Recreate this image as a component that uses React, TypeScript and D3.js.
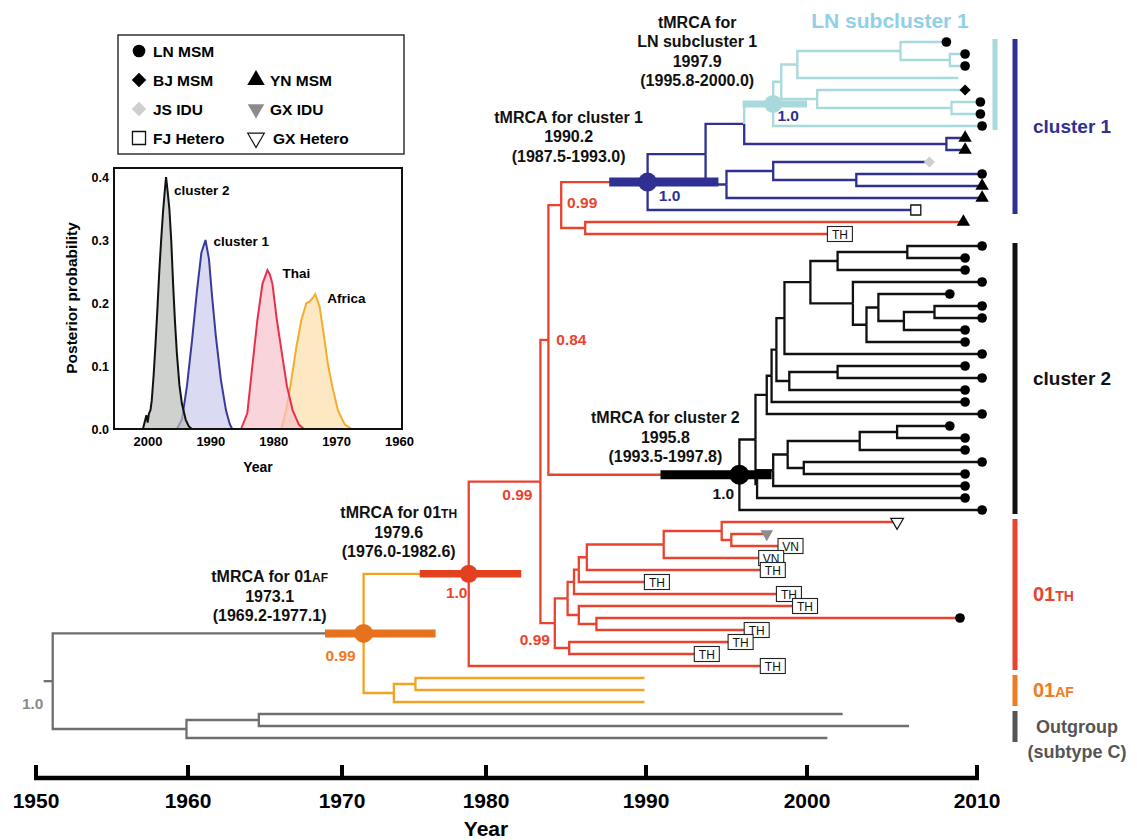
import React from "react";
import * as d3 from "d3";

const FONT = "'Liberation Sans', Arial, Helvetica, sans-serif";

// time axis: the printed axis is not evenly spaced, so the scale is piecewise
const axisTicks = [1950, 1960, 1970, 1980, 1990, 2000, 2010];
const axisRange = [36, 188, 342, 486, 646, 807, 977];

// tree rows in top-to-bottom order: [id, parent, node date (year), tip code]
// tip codes: LN BJ YN JS GX FJ GXH = legend groups, TH / VN = boxed labels, "-" = no mark
type Row = [string, string | null, number, string?];
const treeRows: Row[] = [
  ["root", null, 1951.1],
  ["af", "root", 1971.5],
  ["th", "af", 1978.8],
  ["c", "th", 1983.4],
  ["d", "c", 1983.9],
  ["e", "d", 1984.7],
  ["c1", "e", 1990.1],
  ["u", "c1", 1993.7],
  ["t", "u", 1996.1],
  ["ln", "t", 1997.9],
  ["r", "ln", 1998.4],
  ["q", "r", 1999.4],
  ["n1", "q", 2005.5],
  ["l1", "n1", 2008.2, "LN"],
  ["n2", "n1", 2008.4],
  ["l2", "n2", 2009.3, "LN"],
  ["l3", "n2", 2009.3, "LN"],
  ["l4", "q", 2008.9, "-"],
  ["s", "r", 2000.6],
  ["l5", "s", 2009.3, "BJ"],
  ["n3", "s", 2008.5],
  ["l6", "n3", 2010.2, "LN"],
  ["l7", "n3", 2010.2, "LN"],
  ["l8", "ln", 2010.3, "LN"],
  ["n4", "t", 2008.2],
  ["l9", "n4", 2009.3, "YN"],
  ["l10", "n4", 2009.3, "YN"],
  ["v", "u", 1995.0],
  ["w", "v", 1997.9],
  ["l11", "w", 2007.2, "JS"],
  ["x", "w", 2002.9],
  ["l12", "x", 2010.3, "LN"],
  ["l13", "x", 2010.3, "YN"],
  ["l14", "v", 2010.3, "YN"],
  ["l15", "c1", 2006.4, "FJ"],
  ["m", "e", 1986.2],
  ["m1", "m", 2009.2, "YN"],
  ["m2", "m", 2001.2, "TH"],
  ["c2", "d", 1995.8],
  ["y", "c2", 1996.8],
  ["a1", "y", 1997.5],
  ["a2", "a1", 1997.8],
  ["a3", "a2", 1998.1],
  ["a4", "a3", 1998.6],
  ["a5", "a4", 2000.2],
  ["a6", "a5", 2001.8],
  ["a7", "a6", 2005.9],
  ["k1", "a7", 2010.3, "LN"],
  ["k2", "a7", 2009.3, "LN"],
  ["k3", "a6", 2009.3, "LN"],
  ["a8", "a5", 2002.7],
  ["k4", "a8", 2010.3, "LN"],
  ["a9", "a8", 2003.5],
  ["a10", "a9", 2004.2],
  ["k5", "a10", 2008.4, "LN"],
  ["a11", "a10", 2005.7],
  ["a12", "a11", 2007.5],
  ["k6", "a12", 2010.3, "LN"],
  ["k7", "a12", 2010.3, "LN"],
  ["k8", "a11", 2009.3, "LN"],
  ["k9", "a9", 2009.3, "LN"],
  ["k10", "a4", 2010.3, "LN"],
  ["a13", "a3", 1998.9],
  ["a14", "a13", 2001.8],
  ["k11", "a14", 2009.3, "LN"],
  ["k12", "a14", 2010.3, "LN"],
  ["k13", "a13", 2009.3, "LN"],
  ["k14", "a2", 2009.3, "LN"],
  ["k15", "a1", 2010.3, "LN"],
  ["a15", "y", 1996.9],
  ["a16", "a15", 1997.9],
  ["a17", "a16", 1998.8],
  ["a18", "a17", 2003.1],
  ["a19", "a18", 2005.3],
  ["k16", "a19", 2008.4, "LN"],
  ["k17", "a19", 2009.3, "LN"],
  ["k18", "a18", 2009.3, "LN"],
  ["a20", "a17", 1999.8],
  ["k19", "a20", 2010.3, "LN"],
  ["k20", "a20", 2009.3, "LN"],
  ["k21", "a16", 2009.3, "LN"],
  ["k22", "a15", 2009.3, "LN"],
  ["k23", "c2", 2010.3, "LN"],
  ["b", "c", 1984.3],
  ["b1", "b", 1985.1],
  ["b2", "b1", 1985.5],
  ["b3", "b2", 1985.8],
  ["b4", "b3", 1986.3],
  ["b5", "b4", 1991.1],
  ["b6", "b5", 1994.7],
  ["t1", "b6", 2005.3, "GXH"],
  ["b7", "b6", 1995.3],
  ["t2", "b7", 1997.5, "GX"],
  ["t3", "b7", 1998.2, "VN"],
  ["t4", "b5", 1997.0, "VN"],
  ["t5", "b4", 1997.1, "TH"],
  ["t6", "b3", 1989.9, "TH"],
  ["t7", "b2", 1998.1, "TH"],
  ["b8", "b1", 1985.8],
  ["t8", "b8", 1999.1, "TH"],
  ["b9", "b8", 1986.9],
  ["t9", "b9", 2009.0, "LN"],
  ["t10", "b9", 1996.1, "TH"],
  ["b10", "b", 1985.2],
  ["t11", "b10", 1995.1, "TH"],
  ["t12", "b10", 1993.0, "TH"],
  ["t13", "th", 1997.1, "TH"],
  ["g1", "af", 1973.6],
  ["g2", "g1", 1975.1],
  ["f1", "g2", 1989.9, "-"],
  ["f2", "g2", 1989.9, "-"],
  ["f3", "g1", 1989.9, "-"],
  ["o", "root", 1959.9],
  ["o1n", "o", 1964.6],
  ["o1", "o1n", 2002.1, "-"],
  ["o2", "o1n", 2006.0, "-"],
  ["o3", "o", 2001.2, "-"],
];

// node where each coloured lineage begins
const cladeStart: Record<string, string> = {
  root: "grey",
  af: "orange",
  th: "red",
  c1: "blue",
  ln: "light",
  c2: "black",
};

// 95% HPD of the dated nodes
const hpdNodes = ["af", "th", "c1", "ln", "c2"];
const hpdLow = [1968.9, 1975.4, 1987.7, 1996.0, 1990.9];
const hpdHigh = [1976.5, 1982.2, 1994.5, 2000.0, 1997.8];

// same order as hpdNodes
const tmrcaTitles = [
  ["tMRCA for 01|AF"],
  ["tMRCA for 01|TH"],
  ["tMRCA for cluster 1"],
  ["tMRCA for", "LN subcluster 1"],
  ["tMRCA for cluster 2"],
];
const tmrcaMeans = ["1973.1", "1979.6", "1990.2", "1997.9", "1995.8"];
const tmrcaRanges = [
  "(1969.2-1977.1)",
  "(1976.0-1982.6)",
  "(1987.5-1993.0)",
  "(1995.8-2000.0)",
  "(1993.5-1997.8)",
];

// posterior support
const supportNodes = ["root", "af", "th", "c", "d", "e", "b", "c1", "ln", "c2"];
const supportValues = ["1.0", "0.99", "1.0", "0.99", "0.84", "0.99", "0.99", "1.0", "1.0", "1.0"];

// clade bars on the right: first / last tip
const barNames = ["LN subcluster 1", "cluster 1", "cluster 2", "01|TH", "01|AF", "Outgroup"];
const barFrom = ["l1", "l1", "k1", "t1", "f1", "o1"];
const barTo = ["l8", "l15", "k23", "t13", "f3", "o3"];

// legend
const legendCodes = ["LN", "BJ", "YN", "JS", "GX", "FJ", "GXH"];
const legendLabels = ["LN MSM", "BJ MSM", "YN MSM", "JS IDU", "GX IDU", "FJ Hetero", "GX Hetero"];

// inset: posterior densities of the tMRCA [year, probability]
const densCluster2: [number, number][] = [
  [2000.8, 0], [2000.5, 0.012], [2000.25, 0.022], [2000.05, 0.01], [1999.85, 0.024],
  [1999.6, 0.03], [1999.4, 0.045], [1999.1, 0.085], [1998.8, 0.135], [1998.5, 0.19],
  [1998.2, 0.25], [1997.9, 0.3], [1997.6, 0.345], [1997.35, 0.375], [1997.12, 0.4],
  [1996.9, 0.38], [1996.6, 0.35], [1996.3, 0.3], [1996.0, 0.23], [1995.7, 0.17],
  [1995.4, 0.12], [1995.0, 0.07], [1994.6, 0.04], [1994.0, 0.015], [1993.5, 0.004], [1993.0, 0],
];
const densCluster1: [number, number][] = [
  [1995.4, 0], [1994.6, 0.015], [1993.8, 0.068], [1993.0, 0.14], [1992.2, 0.22],
  [1991.5, 0.28], [1990.85, 0.3], [1990.3, 0.27], [1989.8, 0.21], [1989.2, 0.147],
  [1988.4, 0.078], [1987.6, 0.03], [1987.0, 0.008], [1986.6, 0],
];
const densThai: [number, number][] = [
  [1985.2, 0], [1984.2, 0.025], [1983.4, 0.1], [1982.6, 0.173], [1981.8, 0.23],
  [1981.0, 0.252], [1980.6, 0.245], [1980.2, 0.23], [1979.5, 0.173], [1978.7, 0.12],
  [1977.9, 0.068], [1977.0, 0.03], [1976.0, 0.007], [1975.2, 0],
];
const densAfrica: [number, number][] = [
  [1978.8, 0], [1978.0, 0.03], [1977.2, 0.078], [1976.4, 0.13], [1975.6, 0.173],
  [1974.8, 0.2], [1974.3, 0.202], [1973.8, 0.208], [1973.4, 0.214], [1972.7, 0.194],
  [1972.0, 0.147], [1971.4, 0.104], [1970.7, 0.068], [1969.8, 0.03], [1968.7, 0.007], [1967.6, 0],
];
const insetNames = ["Africa", "Thai", "cluster 1", "cluster 2"];
const insetXTicks = [2000, 1990, 1980, 1970, 1960];
const insetYTicks = [0, 0.1, 0.2, 0.3, 0.4];

// colours
const palette: Record<string, string> = {
  grey: "#6f6f6f",
  orange: "#f3a323",
  red: "#e9432e",
  blue: "#2e3192",
  light: "#a8d9dc",
  black: "#111111",
};
const hpdColor: Record<string, string> = {
  af: "#e8711d",
  th: "#e3401f",
  c1: "#2e3192",
  ln: "#a8d9dc",
  c2: "#000000",
};
const supportColor: Record<string, string> = {
  root: "#8a8a8a",
  af: "#ee7a22",
  th: "#e9432e",
  c: "#e9432e",
  d: "#e9432e",
  e: "#e9432e",
  b: "#e9432e",
  c1: "#2e3192",
  ln: "#2e3192",
  c2: "#111",
};
const barColor = ["#a6dade", "#2e3192", "#111111", "#e9432e", "#ef7b22", "#555555"];
const insetStroke = ["#f6ab2a", "#e8304a", "#3a3a9c", "#111111"];
const insetFill = ["#fbe0aa", "#f7c2ca", "#cacaec", "#b9bdb9"];

const sym = (type: d3.SymbolType, size: number) => d3.symbol().type(type).size(size)() || "";

function Tip({ code, cx, cy, k = 1 }: { code: string; cx: number; cy: number; k?: number }) {
  const tr = `translate(${cx},${cy})`;
  switch (code) {
    case "LN":
      return <path d={sym(d3.symbolCircle, 74 * k)} transform={tr} fill="#000" />;
    case "BJ":
      return <path d={sym(d3.symbolSquare, 62 * k)} transform={tr + " rotate(45)"} fill="#000" />;
    case "YN":
      return <path d={sym(d3.symbolTriangle, 78 * k)} transform={tr} fill="#000" />;
    case "JS":
      return <path d={sym(d3.symbolSquare, 62 * k)} transform={tr + " rotate(45)"} fill="#cfcfcf" />;
    case "GX":
      return <path d={sym(d3.symbolTriangle, 70 * k)} transform={tr + " rotate(180)"} fill="#8c8c8c" />;
    case "FJ":
      return (
        <path d={sym(d3.symbolSquare, 100 * k)} transform={tr} fill="#fff" stroke="#111" strokeWidth={1.3} />
      );
    case "GXH":
      return (
        <path
          d={sym(d3.symbolTriangle, 70 * k)}
          transform={tr + " rotate(180)"}
          fill="#fff"
          stroke="#111"
          strokeWidth={1.2}
        />
      );
    case "TH":
    case "VN":
      return (
        <g>
          <rect x={cx} y={cy - 7.5} width={25} height={15} fill="#fff" stroke="#222" strokeWidth={1.1} />
          <text x={cx + 12.5} y={cy + 4.5} textAnchor="middle" fontSize={12} fill="#111" fontFamily={FONT}>
            {code}
          </text>
        </g>
      );
    default:
      return null;
  }
}

// "01|TH" -> 01 with small caps suffix
function Split({ s, small }: { s: string; small: number }) {
  const [a, b] = s.split("|");
  return (
    <>
      {a}
      {b ? <tspan fontSize={small}>{b}</tspan> : null}
    </>
  );
}

export default function App() {
  const x = d3.scaleLinear().domain(axisTicks).range(axisRange);

  const root = d3
    .stratify<Row>()
    .id((d) => d[0])
    .parentId((d) => d[1])(treeRows);
  const leaves = root.leaves();
  const yLeaf = d3.scaleLinear().domain([0, leaves.length - 1]).range([42, 738]);

  const pos = new Map<string, { x: number; y: number }>();
  leaves.forEach((n, i) => pos.set(n.id!, { x: x(n.data[2]), y: yLeaf(i) }));
  root.eachAfter((n) => {
    if (n.children) {
      const a = pos.get(n.children[0].id!)!;
      const b = pos.get(n.children[n.children.length - 1].id!)!;
      pos.set(n.id!, { x: x(n.data[2]), y: (a.y + b.y) / 2 });
    }
  });
  const clade = new Map<string, string>();
  root.eachBefore((n) => {
    clade.set(n.id!, cladeStart[n.id!] ?? clade.get(n.parent!.id!)!);
  });

  const branches = root.descendants().filter((n) => n.parent);
  const P = (id: string) => pos.get(id)!;

  // offsets of the annotation text from its node
  const tmrcaOffset: Record<string, [number, number]> = {
    af: [-94, -57],
    th: [-70, -61],
    c1: [-79, -65],
    c2: [-74, -57],
    ln: [-76, -82],
  };
  const supportOffset: Record<string, [number, number]> = {
    root: [-20, 22],
    af: [-23, 22],
    th: [-12, 19],
    c: [-23, 13],
    d: [23, 0],
    e: [21, -3],
    b: [-20, 16],
    c1: [22, 13],
    ln: [15, 12],
    c2: [-16, 19],
  };
  const hpdWidth: Record<string, number> = { af: 8, th: 7.5, c1: 9, ln: 7, c2: 9 };
  const dotR: Record<string, number> = { af: 9.5, th: 9, c1: 9.5, ln: 9, c2: 10 };

  // inset
  const ix = d3.scaleLinear().domain([2005.4, 1959.6]).range([114, 402]);
  const iy = d3.scaleLinear().domain([0, 0.4]).range([429, 177]);
  const area = d3
    .area<[number, number]>()
    .x((d) => ix(d[0]))
    .y0(iy(0))
    .y1((d) => iy(d[1]));
  const line = d3
    .line<[number, number]>()
    .x((d) => ix(d[0]))
    .y((d) => iy(d[1]));
  const dens = [densAfrica, densThai, densCluster1, densCluster2];
  const labelShift: [number, number][] = [
    [12, 4],
    [15, 3],
    [8, 1],
    [8, 13],
  ];

  const legendCell = [
    [0, 0],
    [0, 1],
    [1, 1],
    [0, 2],
    [1, 2],
    [0, 3],
    [1, 3],
  ];

  return (
    <svg
      width={1137}
      height={840}
      style={{ position: "absolute", left: 0, top: 0, background: "#fff" }}
      fontFamily={FONT}
    >
      {/* branches */}
      <g fill="none" strokeWidth={2.3}>
        {branches.map((n) => {
          const p = P(n.parent!.id!);
          const c = P(n.id!);
          const col = n.id === "ln" ? palette.light : palette[clade.get(n.parent!.id!)!];
          return <path key={n.id} d={`M${p.x},${p.y}V${c.y}H${c.x}`} stroke={col} />;
        })}
        <path d={`M${x(1950.5)},${P("root").y}H${P("root").x}`} stroke={palette.grey} />
      </g>

      {/* HPD bars and node dots */}
      {hpdNodes.map((id, i) => {
        const p = P(id);
        return (
          <g key={id}>
            <line
              x1={x(hpdLow[i])}
              x2={x(hpdHigh[i])}
              y1={p.y}
              y2={p.y}
              stroke={hpdColor[id]}
              strokeWidth={hpdWidth[id]}
            />
            <circle cx={p.x} cy={p.y} r={dotR[id]} fill={hpdColor[id]} />
          </g>
        );
      })}

      {/* tips */}
      {leaves.map((n) => {
        const p = P(n.id!);
        return <Tip key={n.id} code={n.data[3] || "-"} cx={p.x} cy={p.y} />;
      })}

      {/* support values */}
      <g fontSize={15.5} fontWeight="bold" textAnchor="middle">
        {supportNodes.map((id, i) => {
          const p = P(id);
          const [dx, dy] = supportOffset[id];
          return (
            <text key={id} x={p.x + dx} y={p.y + dy + 5.5} fill={supportColor[id]}>
              {supportValues[i]}
            </text>
          );
        })}
      </g>

      {/* tMRCA annotations */}
      <g fontSize={16} fontWeight="bold" textAnchor="middle" fill="#111">
        {hpdNodes.map((id, i) => {
          const p = P(id);
          const [dx, dy] = tmrcaOffset[id];
          const lines = [...tmrcaTitles[i], tmrcaMeans[i], tmrcaRanges[i]];
          return lines.map((s, j) => (
            <text key={id + j} x={p.x + dx} y={p.y + dy + j * 19.5 + 5.7}>
              <Split s={s} small={12} />
            </text>
          ));
        })}
      </g>

      {/* clade bars */}
      {barNames.map((name, i) => {
        const top = P(barFrom[i]).y - 3;
        const bot = P(barTo[i]).y + 4;
        const bx = i === 0 ? 995 : 1015;
        const mid = (top + bot) / 2;
        let label: React.ReactNode = null;
        if (i === 0) {
          label = (
            <text x={890} y={27.5} textAnchor="middle" fontSize={21} fontWeight="bold" fill="#8fd0e6">
              {name}
            </text>
          );
        } else if (i === 5) {
          label = (
            <g fill="#555" fontSize={18} fontWeight="bold" textAnchor="middle">
              <text x={1077} y={mid + 6}>
                {name}
              </text>
              <text x={1077} y={mid + 31}>
                (subtype C)
              </text>
            </g>
          );
        } else {
          label = (
            <text x={1033} y={mid + 6} fontSize={i >= 3 ? 20 : 19} fontWeight="bold" fill={barColor[i]}>
              <Split s={name} small={14} />
            </text>
          );
        }
        return (
          <g key={name}>
            <rect x={bx - 2.5} y={top} width={5} height={bot - top} fill={barColor[i]} />
            {label}
          </g>
        );
      })}

      {/* time axis */}
      <g>
        <line x1={x(1950) - 2} x2={x(2010) + 2} y1={778} y2={778} stroke="#000" strokeWidth={4.5} />
        {axisTicks.map((t) => (
          <g key={t}>
            <line x1={x(t)} x2={x(t)} y1={765} y2={778} stroke="#000" strokeWidth={4} />
            <text x={x(t)} y={808} textAnchor="middle" fontSize={21} fontWeight="bold">
              {t}
            </text>
          </g>
        ))}
        <text x={x(1980)} y={836} textAnchor="middle" fontSize={21} fontWeight="bold">
          Year
        </text>
      </g>

      {/* legend */}
      <rect x={118} y={35} width={286} height={119} fill="#fff" stroke="#333" strokeWidth={1.5} />
      {legendCodes.map((code, i) => {
        const [col, row] = legendCell[i];
        const mx = col === 0 ? 139 : 256;
        const my = 51 + row * 29;
        return (
          <g key={code}>
            <Tip code={code} cx={mx} cy={my} k={1.7} />
            <text x={mx + (code === "GXH" ? 17 : 14)} y={my + 5.5} fontSize={15.5} fontWeight="bold">
              {legendLabels[i]}
            </text>
          </g>
        );
      })}

      {/* inset */}
      <g>
        {dens.map((d, i) => (
          <g key={insetNames[i]}>
            <path d={area(d) || ""} fill={insetFill[i]} fillOpacity={0.7} />
            <path d={line(d) || ""} fill="none" stroke={insetStroke[i]} strokeWidth={2} />
          </g>
        ))}
        {dens.map((d, i) => {
          const peak = d.reduce((a, b) => (b[1] > a[1] ? b : a));
          return (
            <text
              key={"l" + i}
              x={ix(peak[0]) + labelShift[i][0]}
              y={iy(peak[1]) + labelShift[i][1] + 5}
              fontSize={13.5}
              fontWeight="bold"
            >
              {insetNames[i]}
            </text>
          );
        })}
        <rect x={114} y={168} width={288} height={261} fill="none" stroke="#111" strokeWidth={2} />
        {insetYTicks.map((t) => (
          <text key={t} x={109} y={iy(t) + 4.5} textAnchor="end" fontSize={12.5} fontWeight="bold">
            {t.toFixed(1)}
          </text>
        ))}
        {insetXTicks.map((t) => (
          <text key={t} x={ix(t)} y={446} textAnchor="middle" fontSize={13} fontWeight="bold">
            {t}
          </text>
        ))}
        <text
          transform="translate(77,298) rotate(-90)"
          textAnchor="middle"
          fontSize={15.5}
          fontWeight="bold"
        >
          Posterior probability
        </text>
        <text x={258} y={472} textAnchor="middle" fontSize={14} fontWeight="bold">
          Year
        </text>
      </g>
    </svg>
  );
}
